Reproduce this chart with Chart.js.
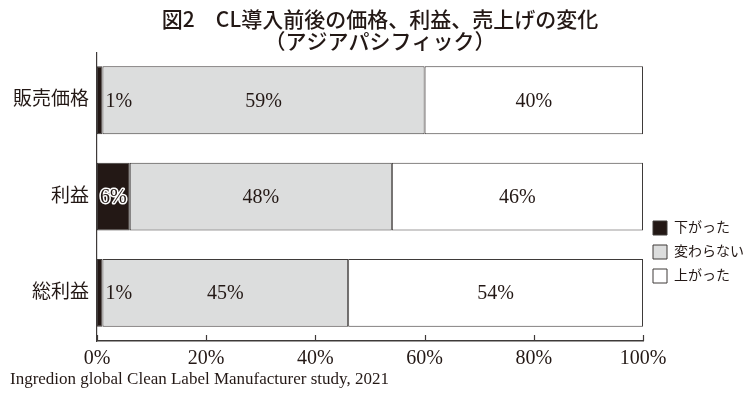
<!DOCTYPE html>
<html><head><meta charset="utf-8">
<script src="https://cdn.jsdelivr.net/npm/chart.js@4.4.1/dist/chart.umd.min.js"></script>
<style>html,body{margin:0;padding:0;background:#fff;}#wrap{width:750px;height:398px;}</style>
</head><body><div id="wrap"><canvas id="c" width="750" height="398"></canvas></div>
<script>
const categories = ['販売価格', '利益', '総利益'];
const seriesNames = ['下がった', '変わらない', '上がった'];
const decreased = [1, 6, 1];
const unchanged = [59, 48, 45];
const increased = [40, 46, 54];
const xTickValues = [0, 20, 40, 60, 80, 100];
const titleLines = ['図2　CL導入前後の価格、利益、売上げの変化', '（アジアパシフィック）'];
const sourceText = 'Ingredion global Clean Label Manufacturer study, 2021';

const INK = '#231815';
const EDGE = '#3e3a39';
const SERIF = '"Liberation Serif", "Noto Sans CJK JP", serif';
const SANS = '"Noto Sans CJK JP", sans-serif';

const innerTicks = {
  id: 'innerTicks',
  afterDraw(chart) {
    const s = chart.scales.x, ctx = chart.ctx, b = chart.chartArea.bottom;
    ctx.save();
    ctx.strokeStyle = EDGE; ctx.lineWidth = 1.2;
    xTickValues.forEach(v => {
      const x = Math.round(s.getPixelForValue(v)) + 0.5;
      ctx.beginPath(); ctx.moveTo(x, b); ctx.lineTo(x, b - 6); ctx.stroke();
    });
    ctx.restore();
  }
};

const barLabels = {
  id: 'barLabels',
  afterDatasetsDraw(chart) {
    const ctx = chart.ctx;
    ctx.save();
    ctx.font = '20px ' + SERIF;
    ctx.textBaseline = 'middle';
    chart.data.datasets.forEach((ds, di) => {
      const meta = chart.getDatasetMeta(di);
      meta.data.forEach((el, i) => {
        const v = ds.data[i];
        const left = Math.min(el.x, el.base), right = Math.max(el.x, el.base);
        const txt = v + '%';
        const y = el.y + 1;
        if (right - left < 20) {
          ctx.textAlign = 'left';
          ctx.fillStyle = INK;
          ctx.fillText(txt, right + 3, y);
        } else if (di === 0) {
          ctx.textAlign = 'center';
          ctx.lineWidth = 3; ctx.strokeStyle = '#ffffff'; ctx.lineJoin = 'round';
          ctx.strokeText(txt, (left + right) / 2, y);
          ctx.fillStyle = INK;
          ctx.fillText(txt, (left + right) / 2, y);
        } else {
          ctx.textAlign = 'center';
          ctx.fillStyle = INK;
          ctx.fillText(txt, (left + right) / 2, y);
        }
      });
    });
    ctx.restore();
  }
};

const fills = ['#231815', '#dcdddd', '#ffffff'];
const seriesData = [decreased, unchanged, increased];

new Chart(document.getElementById('c'), {
  type: 'bar',
  data: {
    labels: categories,
    datasets: seriesNames.map((n, k) => ({
      label: n,
      data: seriesData[k],
      backgroundColor: fills[k],
      borderColor: EDGE,
      borderWidth: 1,
      borderSkipped: false,
      categoryPercentage: 0.8,
      barPercentage: 0.88
    }))
  },
  options: {
    indexAxis: 'y',
    responsive: false,
    animation: false,
    devicePixelRatio: 1,
    layout: { padding: { left: 10, right: 0, top: 0, bottom: 0 } },
    scales: {
      x: {
        type: 'linear', stacked: true, min: 0, max: 100,
        grid: { display: false, drawTicks: false },
        border: { display: true, color: EDGE, width: 1.5 },
        afterBuildTicks(scale) { scale.ticks = xTickValues.map(v => ({ value: v })); },
        afterFit(scale) { scale.height = 26; },
        ticks: { padding: 8, color: INK, font: { family: SERIF, size: 20, lineHeight: 1.0 }, callback: v => v + '%' }
      },
      y: {
        stacked: true,
        grid: { display: false, drawTicks: false },
        border: { display: true, color: EDGE, width: 1.2 },
        afterFit(scale) { scale.width = 87; },
        ticks: { padding: 8, color: INK, font: { family: SERIF, size: 19 } }
      }
    },
    plugins: {
      legend: {
        position: 'right', align: 'center', maxWidth: 107,
        title: { display: true, text: ' ', font: { size: 1, lineHeight: 1 }, padding: { top: 105, bottom: 0 } },
        labels: { boxWidth: 14, boxHeight: 14, padding: 10, color: INK, font: { family: SERIF, size: 14 } }
      },
      title: {
        display: true, text: titleLines, color: INK,
        font: { family: SANS, size: 21, weight: 500, lineHeight: 1.05 },
        padding: { top: 8, bottom: 0 }
      },
      subtitle: {
        display: true, text: sourceText, position: 'bottom', align: 'start', color: INK,
        font: { family: SERIF, size: 17, lineHeight: 1.0 },
        padding: { top: 4.5, bottom: 9.5 }
      },
      tooltip: { enabled: false }
    }
  },
  plugins: [innerTicks, barLabels]
});
</script></body></html>
